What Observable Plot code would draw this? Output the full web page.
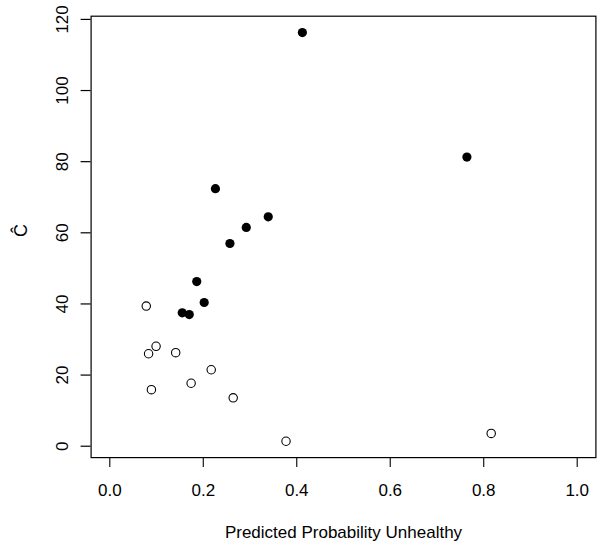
<!DOCTYPE html>
<html>
<head>
<meta charset="utf-8">
<script src="https://cdn.jsdelivr.net/npm/d3@7"></script>
<script src="https://cdn.jsdelivr.net/npm/@observablehq/plot@0.6"></script>
<style>
  html, body { margin: 0; padding: 0; background: #fff; }
  #chart svg { display: block; }
</style>
</head>
<body>
<div id="chart"></div>
<script>
// Filled (solid) points
const filledX = [0.412, 0.764, 0.226, 0.339, 0.292, 0.257, 0.186, 0.202, 0.155, 0.170];
const filledY = [116.3, 81.3, 72.4, 64.5, 61.5, 57.0, 46.3, 40.4, 37.5, 37.0];
// Open (hollow) points
const openX = [0.078, 0.099, 0.083, 0.141, 0.217, 0.174, 0.089, 0.264, 0.377, 0.816];
const openY = [39.4, 28.1, 26.0, 26.3, 21.5, 17.7, 15.9, 13.6, 1.4, 3.6];
// Axis ticks and labels
const xTicks = [0, 0.2, 0.4, 0.6, 0.8, 1.0];
const yTicks = [0, 20, 40, 60, 80, 100, 120];
const xLabel = "Predicted Probability Unhealthy";
const yLabel = "\u0108";

const filled = filledX.map((x, i) => ({x, y: filledY[i]}));
const open = openX.map((x, i) => ({x, y: openY[i]}));
const FS = 17;
const W = 600, H = 546, ML = 90.6, MR = 4.6, MT = 15.7, MB = 88.9;
const TICK = 10;

const chart = Plot.plot({
  width: W,
  height: H,
  marginLeft: ML,
  marginRight: MR,
  marginTop: MT,
  marginBottom: MB,
  style: {fontFamily: "'Liberation Sans', Arial, Helvetica, sans-serif", fontSize: FS + "px", background: "#fff", color: "#000"},
  x: {domain: [-0.04, 1.04]},
  y: {domain: [-3.2, 120.9], axis: null},
  marks: [
    Plot.frame({stroke: "#000", strokeWidth: 1.2}),
    // x axis: ticks and labels
    Plot.axisX({ticks: xTicks, tickFormat: d3.format(".1f"), tickSize: TICK, tickPadding: 16, label: null, fontSize: FS, stroke: "#000", strokeWidth: 1.1}),
    // y axis: short horizontal tick marks left of the frame
    Plot.tickY(yTicks, {y: (d) => d, insetRight: (W - ML - MR) - TICK, dx: -TICK, stroke: "#000", strokeWidth: 1.2}),
    // y axis: rotated tick labels
    Plot.text(yTicks, {y: (d) => d, text: (d) => d3.format("d")(d), frameAnchor: "left", dx: -29, rotate: -90, textAnchor: "middle", lineAnchor: "middle", fontSize: FS, fill: "#000"}),
    Plot.text([xLabel], {frameAnchor: "bottom", dy: 74.6, fontSize: FS, fill: "#000", lineAnchor: "middle"}),
    Plot.text([yLabel], {frameAnchor: "left", dx: -70, rotate: -90, fontSize: 18, fill: "#000", lineAnchor: "middle"}),
    Plot.dot(open, {x: "x", y: "y", r: 4.2, fill: "#fff", stroke: "#000", strokeWidth: 1.1}),
    Plot.dot(filled, {x: "x", y: "y", r: 4.6, fill: "#000", stroke: "none"})
  ]
});
document.getElementById("chart").append(chart);
</script>
</body>
</html>
